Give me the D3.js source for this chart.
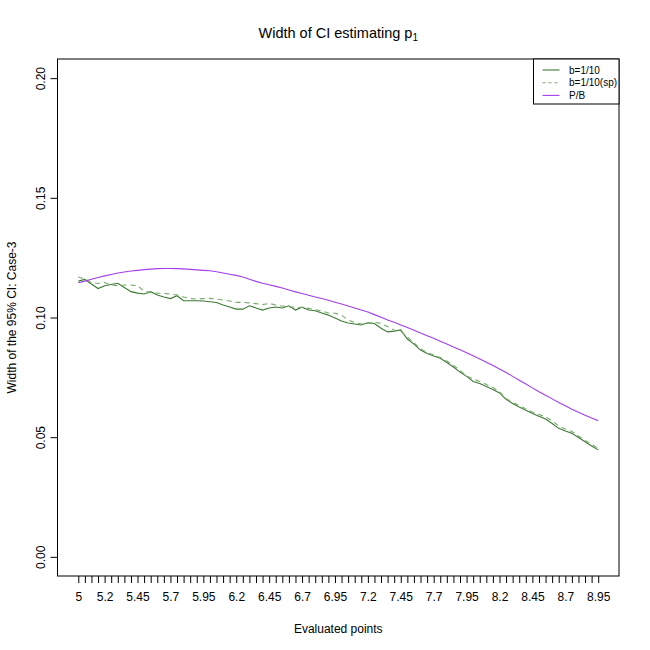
<!DOCTYPE html>
<html>
<head>
<meta charset="utf-8">
<script src="https://cdn.jsdelivr.net/npm/d3@7"></script>
<style>
  body { margin: 0; background: #fff; }
  svg { display: block; font-family: "Liberation Sans", Arial, sans-serif; }
</style>
</head>
<body>
<svg width="650" height="650"></svg>
<script>
// evaluated points (x) and the three CI-width series
const evalPoints = [
  5.00, 5.05, 5.10, 5.15, 5.20, 5.25, 5.30, 5.35, 5.40, 5.45,
  5.50, 5.55, 5.60, 5.65, 5.70, 5.75, 5.80, 5.85, 5.90, 5.95,
  6.00, 6.05, 6.10, 6.15, 6.20, 6.25, 6.30, 6.35, 6.40, 6.45,
  6.50, 6.55, 6.60, 6.65, 6.70, 6.75, 6.80, 6.85, 6.90, 6.95,
  7.00, 7.05, 7.10, 7.15, 7.20, 7.25, 7.30, 7.35, 7.40, 7.45,
  7.50, 7.55, 7.60, 7.65, 7.70, 7.75, 7.80, 7.85, 7.90, 7.95,
  8.00, 8.05, 8.10, 8.15, 8.20, 8.25, 8.30, 8.35, 8.40, 8.45,
  8.50, 8.55, 8.60, 8.65, 8.70, 8.75, 8.80, 8.85, 8.90, 8.95
];

const widthB10 = [
  0.1152, 0.1159, 0.1140, 0.1121, 0.1133, 0.1138, 0.1143, 0.1125, 0.1108, 0.1102,
  0.1098, 0.1108, 0.1094, 0.1086, 0.1079, 0.1091, 0.1070, 0.1070, 0.1070, 0.1069,
  0.1066, 0.1063, 0.1052, 0.1044, 0.1035, 0.1035, 0.1049, 0.1040, 0.1031, 0.1040,
  0.1044, 0.1040, 0.1049, 0.1031, 0.1043, 0.1031, 0.1028, 0.1019, 0.1010, 0.0998,
  0.0985, 0.0977, 0.0973, 0.0969, 0.0978, 0.0975, 0.0955, 0.0940, 0.0943, 0.0948,
  0.0910, 0.0889, 0.0864, 0.0850, 0.0839, 0.0830, 0.0812, 0.0793, 0.0772, 0.0754,
  0.0733, 0.0724, 0.0712, 0.0699, 0.0685, 0.0658, 0.0641, 0.0626, 0.0612, 0.0599,
  0.0587, 0.0576, 0.0557, 0.0537, 0.0526, 0.0516, 0.0499, 0.0481, 0.0463, 0.0447
];

const widthB10sp = [
  0.1169, 0.1161, 0.1146, 0.1142, 0.1146, 0.1136, 0.1133, 0.1136, 0.1136, 0.1132,
  0.1111, 0.1104, 0.1102, 0.1101, 0.1098, 0.1094, 0.1086, 0.1079, 0.1077, 0.1079,
  0.1080, 0.1077, 0.1073, 0.1069, 0.1063, 0.1063, 0.1061, 0.1058, 0.1054, 0.1059,
  0.1052, 0.1048, 0.1044, 0.1043, 0.1042, 0.1038, 0.1033, 0.1027, 0.1019, 0.1018,
  0.1010, 0.0990, 0.0979, 0.0973, 0.0975, 0.0981, 0.0975, 0.0962, 0.0948, 0.0942,
  0.0919, 0.0894, 0.0868, 0.0854, 0.0843, 0.0833, 0.0818, 0.0800, 0.0779, 0.0756,
  0.0743, 0.0733, 0.0720, 0.0708, 0.0689, 0.0662, 0.0645, 0.0633, 0.0618, 0.0605,
  0.0595, 0.0585, 0.0568, 0.0547, 0.0534, 0.0524, 0.0505, 0.0486, 0.0470, 0.0453
];

const widthPB = [
  0.1145, 0.1152, 0.1160, 0.1167, 0.1174, 0.1180, 0.1186, 0.1190, 0.1194, 0.1197,
  0.1200, 0.1202, 0.1204, 0.1205, 0.1205, 0.1204, 0.1203, 0.1201, 0.1199, 0.1197,
  0.1195, 0.1191, 0.1186, 0.1181, 0.1176, 0.1169, 0.1160, 0.1151, 0.1143, 0.1137,
  0.1130, 0.1123, 0.1115, 0.1107, 0.1100, 0.1093, 0.1086, 0.1079, 0.1072, 0.1064,
  0.1056, 0.1048, 0.1040, 0.1031, 0.1023, 0.1012, 0.1001, 0.0990, 0.0980, 0.0969,
  0.0958, 0.0947, 0.0935, 0.0924, 0.0913, 0.0901, 0.0889, 0.0877, 0.0865, 0.0853,
  0.0840, 0.0827, 0.0813, 0.0799, 0.0785, 0.0770, 0.0754, 0.0738, 0.0722, 0.0706,
  0.0690, 0.0675, 0.0660, 0.0645, 0.0631, 0.0617, 0.0604, 0.0592, 0.0580, 0.0569
];

const xTickLabels = [5, 5.2, 5.45, 5.7, 5.95, 6.2, 6.45, 6.7, 6.95, 7.2, 7.45, 7.7, 7.95, 8.2, 8.45, 8.7, 8.95];
const yTicks = [0, 0.05, 0.10, 0.15, 0.20];

const seriesNames = ["b=1/10", "b=1/10(sp)", "P/B"];
const seriesColours = ["#3d7a35", "#7aa86e", "#a23ff0"];
const seriesDash = [null, "5,4", null];

// plot region (R style: 4% padding on both axes)
let box = { "left": 57.5, "right": 619, "top": 59, "bottom": 576 };

let svg = d3.select("svg");

let xPad = (8.95 - 5) * 0.04;
let scaleX = d3.scaleLinear()
  .domain([5 - xPad, 8.95 + xPad])
  .range([box.left, box.right]);

let scaleY = d3.scaleLinear()
  .domain([-0.008, 0.208])
  .range([box.bottom, box.top]);

// lines
let line = d3.line()
  .x((d, i) => scaleX(evalPoints[i]))
  .y(d => scaleY(d));

let allSeries = [widthB10, widthB10sp, widthPB];
svg.append("g")
  .selectAll("path")
  .data(allSeries)
  .join("path")
  .attr("d", d => line(d))
  .attr("fill", "none")
  .attr("stroke", (d, i) => seriesColours[i])
  .attr("stroke-width", 1.1)
  .attr("stroke-dasharray", (d, i) => seriesDash[i]);

// box around the plot
svg.append("rect")
  .attr("x", box.left).attr("y", box.top)
  .attr("width", box.right - box.left)
  .attr("height", box.bottom - box.top)
  .attr("fill", "none").attr("stroke", "#000").attr("stroke-width", 1);

// x axis - a tick at every point, labels only where R had room
let labelSet = new Set(xTickLabels.map(v => v.toFixed(2)));
let xAxis = d3.axisBottom(scaleX)
  .tickValues(evalPoints)
  .tickSize(7)
  .tickPadding(9)
  .tickFormat(d => labelSet.has(d.toFixed(2)) ? String(+d.toFixed(2)) : "");

let gx = svg.append("g")
  .attr("transform", "translate(0," + box.bottom + ")")
  .call(xAxis);
gx.select(".domain").remove();
gx.selectAll("line").attr("stroke", "#000");
gx.selectAll("text").attr("font-size", 12).attr("fill", "#000");

// y axis - rotated labels
let yAxis = d3.axisLeft(scaleY)
  .tickValues(yTicks)
  .tickSize(7)
  .tickFormat(d3.format(".2f"));

let gy = svg.append("g")
  .attr("transform", "translate(" + box.left + ",0)")
  .call(yAxis);
gy.select(".domain").remove();
gy.selectAll("line").attr("stroke", "#000");
gy.selectAll("text")
  .attr("font-size", 12)
  .attr("fill", "#000")
  .attr("x", null)
  .attr("dy", null)
  .attr("text-anchor", "middle")
  .attr("transform", "translate(-13,0) rotate(-90)");

// titles
let title = svg.append("text")
  .attr("x", (box.left + box.right) / 2)
  .attr("y", 38)
  .attr("text-anchor", "middle")
  .attr("font-size", 14.5);
title.append("tspan").text("Width of CI estimating p");
title.append("tspan").attr("font-size", 10).attr("dy", 3).text("1");

svg.append("text")
  .attr("x", (box.left + box.right) / 2)
  .attr("y", 633)
  .attr("text-anchor", "middle")
  .attr("font-size", 12)
  .text("Evaluated points");

svg.append("text")
  .attr("transform", "translate(16," + ((box.top + box.bottom) / 2) + ") rotate(-90)")
  .attr("text-anchor", "middle")
  .attr("font-size", 12)
  .text("Width of the 95% CI: Case-3");

// legend in the top right corner
let legend = svg.append("g");
legend.append("rect")
  .attr("x", 533.5).attr("y", box.top)
  .attr("width", box.right - 533.5).attr("height", 45)
  .attr("fill", "#fff").attr("stroke", "#000");

let rows = legend.selectAll("g.row")
  .data(seriesNames)
  .join("g")
  .attr("class", "row")
  .attr("transform", (d, i) => "translate(0," + (70 + i * 12.7) + ")");

rows.append("line")
  .attr("x1", 542.5).attr("x2", 559.5)
  .attr("stroke", (d, i) => seriesColours[i])
  .attr("stroke-width", 1.1)
  .attr("stroke-dasharray", (d, i) => seriesDash[i] ? "3,3" : null);

rows.append("text")
  .attr("x", 569)
  .attr("dy", "0.35em")
  .attr("font-size", 10)
  .text(d => d);
</script>
</body>
</html>
